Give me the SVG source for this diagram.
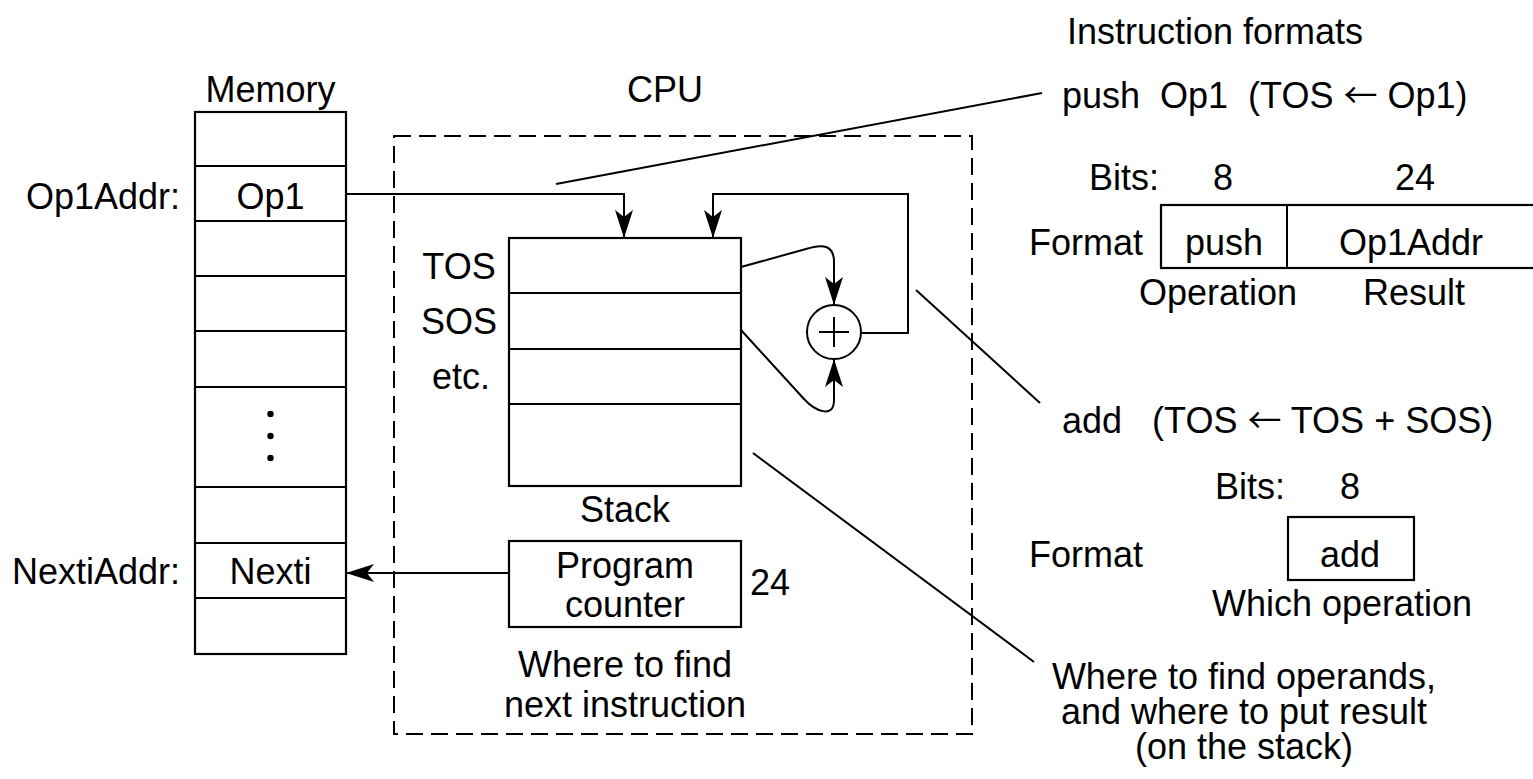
<svg xmlns="http://www.w3.org/2000/svg" width="1533" height="779" viewBox="0 0 1533 779">
<defs>
<style>
text{font-family:"Liberation Sans",Arial,sans-serif;font-size:36px;fill:#000}
.m{text-anchor:middle}
.e{text-anchor:end}
.pre{white-space:pre}
.ar{font-family:"Noto Sans CJK SC","DejaVu Sans",sans-serif;font-size:34px}
.box{fill:#fff;stroke:#000;stroke-width:2.2}
.ln{fill:none;stroke:#000;stroke-width:2}
.dash{fill:none;stroke:#000;stroke-width:2;stroke-dasharray:17 8}
</style>
<marker id="arr" viewBox="0 0 28 20" refX="28" refY="10" markerWidth="28" markerHeight="20" markerUnits="userSpaceOnUse" orient="auto">
<path d="M28,10 L0,1 L7,10 L0,19 Z" fill="#000"/>
</marker>
</defs>
<rect width="1533" height="779" fill="#fff"/>

<g id="memory">
<text class="m" x="270.5" y="102">Memory</text>
<rect class="box" x="195" y="112" width="151" height="542"/>
<path class="ln" d="M195,166H346M195,221H346M195,276H346M195,331H346M195,387H346M195,487H346M195,543H346M195,598H346"/>
<text class="m" x="270.5" y="209">Op1</text>
<circle cx="270.5" cy="414" r="3.2"/>
<circle cx="270.5" cy="436" r="3.2"/>
<circle cx="270.5" cy="458" r="3.2"/>
<text class="m" x="270.5" y="584">Nexti</text>
<text class="e" x="180" y="209">Op1Addr:</text>
<text class="e" x="180" y="584">NextiAddr:</text>
</g>

<g id="cpu">
<text class="m" x="665" y="102">CPU</text>
<rect class="dash" x="394" y="136" width="578" height="598"/>
</g>

<g id="stack">
<rect class="box" x="509" y="238" width="232" height="248"/>
<path class="ln" d="M509,293H741M509,349H741M509,404H741"/>
<text class="m" x="459" y="279">TOS</text>
<text class="m" x="459" y="334">SOS</text>
<text class="m" x="461" y="389">etc.</text>
<text class="m" x="625" y="522">Stack</text>
</g>

<g id="adder">
<circle class="ln" cx="834" cy="332" r="27"/>
<path class="ln" d="M819,332H849M834,317V347"/>
</g>

<g id="pc">
<rect class="box" x="509" y="541" width="232" height="86"/>
<text class="m" x="625" y="578">Program</text>
<text class="m" x="625" y="617">counter</text>
<text x="750" y="595">24</text>
<text class="m" x="625" y="677">Where to find</text>
<text class="m" x="625" y="717">next instruction</text>
</g>

<g id="push-format">
<text class="m" x="1215" y="44">Instruction formats</text>
<text class="pre" x="1062" y="108">push  Op1  (TOS <tspan class="ar">←</tspan> Op1)</text>
<text x="1089" y="190">Bits:</text>
<text class="m" x="1223" y="190">8</text>
<text class="m" x="1415" y="190">24</text>
<text x="1029" y="255">Format</text>
<rect class="box" x="1161" y="205" width="400" height="63"/>
<path class="ln" d="M1287,205V268"/>
<text class="m" x="1224" y="255">push</text>
<text class="m" x="1411" y="255">Op1Addr</text>
<text class="m" x="1218" y="305">Operation</text>
<text class="m" x="1414" y="305">Result</text>
</g>

<g id="add-format">
<text class="pre" x="1062" y="433">add   (TOS <tspan class="ar">←</tspan> TOS + SOS)</text>
<text x="1215" y="499">Bits:</text>
<text class="m" x="1350" y="499">8</text>
<text x="1029" y="567">Format</text>
<rect class="box" x="1288" y="517" width="126" height="63"/>
<text class="m" x="1350" y="567">add</text>
<text class="m" x="1342" y="616">Which operation</text>
</g>

<g id="operands-note">
<text class="m" x="1244" y="689">Where to find operands,</text>
<text class="m" x="1244" y="724">and where to put result</text>
<text class="m" x="1244" y="759">(on the stack)</text>
</g>

<g id="connectors">
<path class="ln" d="M346,194H624V238" marker-end="url(#arr)"/>
<path class="ln" d="M861,333H908V194H713V238" marker-end="url(#arr)"/>
<path class="ln" d="M741,267L806,249C824,243 834,246 834,262V305" marker-end="url(#arr)"/>
<path class="ln" d="M741,330L804,399C814,410 834,420 834,400V359" marker-end="url(#arr)"/>
<path class="ln" d="M509,573H346" marker-end="url(#arr)"/>
<path class="ln" d="M556,184L1042,93"/>
<path class="ln" d="M916,290L1040,403"/>
<path class="ln" d="M753,453L1034,662"/>
</g>
</svg>
